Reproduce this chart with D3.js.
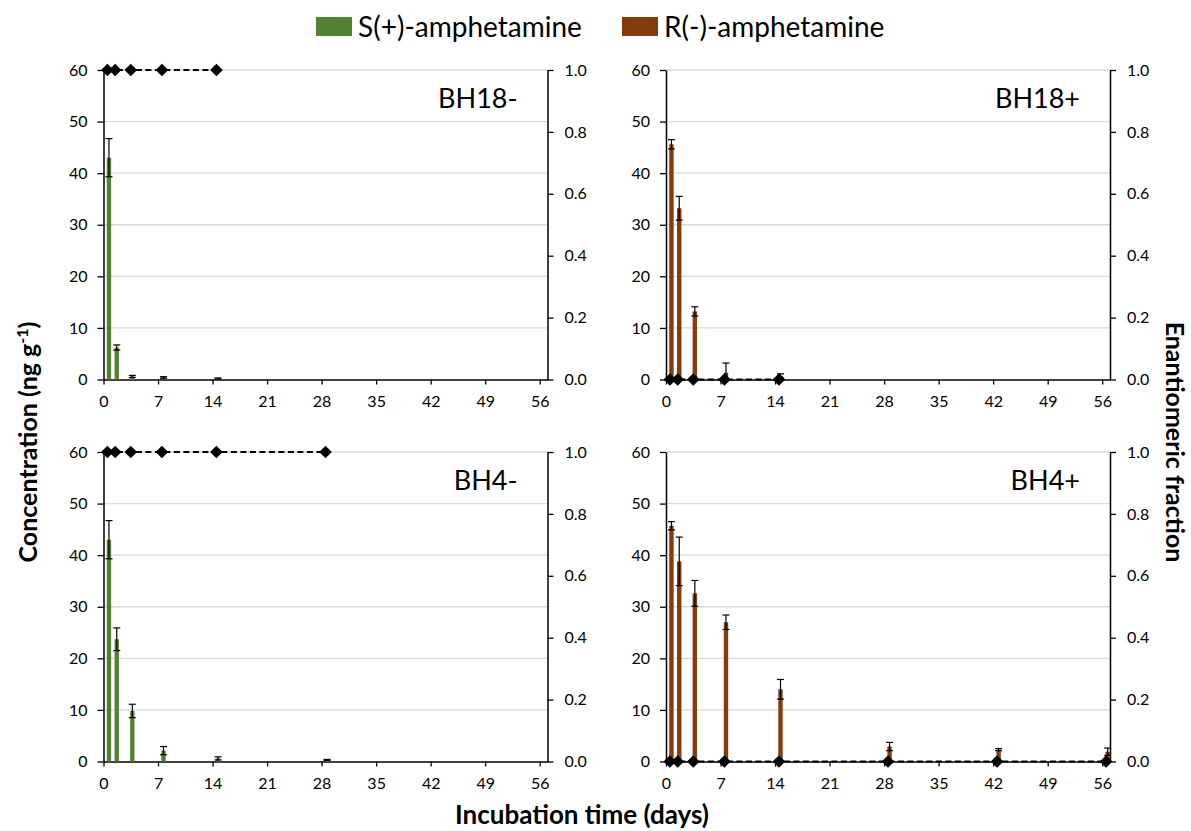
<!DOCTYPE html>
<html>
<head>
<meta charset="utf-8">
<script src="https://cdn.jsdelivr.net/npm/d3@7"></script>
<style>
  body { margin: 0; background: #fff; }
  svg text { font-family: Lato, "Liberation Sans", sans-serif; fill: #000; }
</style>
</head>
<body>
<svg id="chart" width="1191" height="831"></svg>
<script>
// 数据：采样天数、刻度
const days = [0, 1, 3, 7, 14, 28, 42, 56];
const xTicks = [0, 7, 14, 21, 28, 35, 42, 49, 56];
const concTicks = [0, 10, 20, 30, 40, 50, 60];
const efTicks = [0, 0.2, 0.4, 0.6, 0.8, 1.0];
const seriesNames = ["S(+)-amphetamine", "R(-)-amphetamine"];
const seriesColors = ["#548235", "#843c0c"];

// BH18- (S)
const bh18MinusConc = [43.0, 6.2, 0.6, 0.4, 0.2];
const bh18MinusErr = [3.7, 0.5, 0.2, 0.15, 0.1];
const bh18MinusEF = [1, 1, 1, 1, 1];
// BH18+ (R)
const bh18PlusConc = [45.6, 33.2, 13.2, 1.3, 0.7];
const bh18PlusErr = [0.9, 2.3, 0.9, 1.9, 0.4];
const bh18PlusEF = [0, 0, 0, 0, 0];
// BH4- (S)
const bh4MinusConc = [43.0, 23.7, 9.8, 2.1, 0.6, 0.3];
const bh4MinusErr = [3.7, 2.2, 1.3, 0.8, 0.3, 0.1];
const bh4MinusEF = [1, 1, 1, 1, 1, 1];
// BH4+ (R)
const bh4PlusConc = [45.7, 38.8, 32.6, 27.0, 14.0, 2.9, 2.3, 1.9];
const bh4PlusErr = [0.8, 4.7, 2.5, 1.4, 1.9, 0.8, 0.2, 0.7];
const bh4PlusEF = [0, 0, 0, 0, 0, 0, 0, 0];

const svg = d3.select("#chart");

const panels = [
  {name: "BH18-", conc: bh18MinusConc, err: bh18MinusErr, ef: bh18MinusEF, s: 0, x0: 103.5, y0: 70},
  {name: "BH18+", conc: bh18PlusConc, err: bh18PlusErr, ef: bh18PlusEF, s: 1, x0: 666, y0: 70},
  {name: "BH4-", conc: bh4MinusConc, err: bh4MinusErr, ef: bh4MinusEF, s: 0, x0: 103.5, y0: 452},
  {name: "BH4+", conc: bh4PlusConc, err: bh4PlusErr, ef: bh4PlusEF, s: 1, x0: 666, y0: 452}
];
const pw = 444, ph = 309.5;

//画每一个小图
panels.forEach(function (p) {
  const g = svg.append("g").attr("transform", `translate(${p.x0},${p.y0})`);
  const x = d3.scaleLinear().domain([0, 57]).range([0, pw]);
  const y = d3.scaleLinear().domain([0, 60]).range([ph, 0]);
  const yEF = d3.scaleLinear().domain([0, 1]).range([ph, 0]);

  //网格线
  g.append("g").selectAll("line").data(concTicks.slice(1)).join("line")
    .attr("x1", 0).attr("x2", pw)
    .attr("y1", d => y(d)).attr("y2", d => y(d))
    .attr("stroke", "#d9d9d9").attr("stroke-width", 1.3);

  //坐标轴
  const xAxis = g.append("g").attr("transform", `translate(0,${ph})`)
    .call(d3.axisBottom(x).tickValues(xTicks).tickSize(5).tickSizeOuter(0));
  const yAxis = g.append("g")
    .call(d3.axisLeft(y).tickValues(concTicks).tickSize(6).tickSizeOuter(0));
  const yAxisR = g.append("g").attr("transform", `translate(${pw},0)`)
    .call(d3.axisRight(yEF).tickValues(efTicks).tickFormat(d3.format(".1f")).tickSize(6).tickSizeOuter(0));
  [xAxis, yAxis, yAxisR].forEach(a => {
    a.select(".domain").attr("stroke", "#000").attr("stroke-width", 1.5);
    a.selectAll(".tick line").attr("stroke", "#000").attr("stroke-width", 1.3);
    a.selectAll(".tick text").style("font-size", "16px").style("font-family", "Lato, sans-serif");
  });
  xAxis.selectAll(".tick text").attr("y", 9).attr("dy", "18px");
  yAxis.selectAll(".tick text").attr("x", -16);
  yAxisR.selectAll(".tick text").attr("x", 17);

  const rows = p.conc.map((v, i) => ({day: days[i], v: v, e: p.err[i], ef: p.ef[i]}));

  //柱子
  g.append("g").selectAll("rect").data(rows).join("rect")
    .attr("x", d => x(d.day + 0.7) - 2.2)
    .attr("width", 4.4)
    .attr("y", d => y(d.v))
    .attr("height", d => y(0) - y(d.v))
    .attr("fill", seriesColors[p.s]);

  //误差线
  const eb = g.append("g").selectAll("g").data(rows).join("g");
  eb.append("line")
    .attr("x1", d => x(d.day + 0.7)).attr("x2", d => x(d.day + 0.7))
    .attr("y1", d => y(Math.max(0, d.v - d.e))).attr("y2", d => y(d.v + d.e))
    .attr("stroke", "#000").attr("stroke-width", 1.2);
  eb.selectAll("line.cap").data(d => [d.v + d.e, Math.max(0, d.v - d.e)]).join("line")
    .attr("class", "cap")
    .attr("x1", function () { return x(d3.select(this.parentNode).datum().day + 0.7) - 3.5; })
    .attr("x2", function () { return x(d3.select(this.parentNode).datum().day + 0.7) + 3.5; })
    .attr("y1", d => y(d)).attr("y2", d => y(d))
    .attr("stroke", "#000").attr("stroke-width", 1.2);

  //对映体分数折线
  g.append("path").datum(rows)
    .attr("d", d3.line().x(d => x(d.day + 0.5)).y(d => yEF(d.ef)))
    .attr("fill", "none").attr("stroke", "#000")
    .attr("stroke-width", 2).attr("stroke-dasharray", "6,3.5");
  g.append("g").selectAll("path").data(rows).join("path")
    .attr("transform", d => `translate(${x(d.day + 0.5)},${yEF(d.ef)}) rotate(45)`)
    .attr("d", d3.symbol(d3.symbolSquare, 80))
    .attr("fill", "#000");

  //标题
  g.append("text").attr("x", pw - 30).attr("y", 38)
    .attr("text-anchor", "end")
    .style("font-size", "27px")
    .text(p.name);
});

//图例
const legend = svg.append("g").attr("transform", "translate(316,17)");
seriesNames.forEach(function (n, i) {
  const lg = legend.append("g").attr("transform", `translate(${i * 306},0)`);
  lg.append("rect").attr("width", 36).attr("height", 19).attr("fill", seriesColors[i]);
  lg.append("text").attr("x", 42).attr("y", 20).style("font-size", "28px").text(n);
});

//坐标轴标题
svg.append("text")
  .attr("transform", "translate(37,442) rotate(-90)")
  .attr("text-anchor", "middle")
  .style("font-size", "25px").style("font-weight", "bold")
  .html('Concentration (ng g<tspan dy="-9" font-size="16px">-1</tspan><tspan dy="9">)</tspan>');

svg.append("text")
  .attr("transform", "translate(1166,442) rotate(90)")
  .attr("text-anchor", "middle")
  .style("font-size", "25px").style("font-weight", "bold")
  .text("Enantiomeric fraction");

svg.append("text")
  .attr("x", 582).attr("y", 824)
  .attr("text-anchor", "middle")
  .style("font-size", "26px").style("font-weight", "bold")
  .text("Incubation time (days)");
</script>
</body>
</html>
